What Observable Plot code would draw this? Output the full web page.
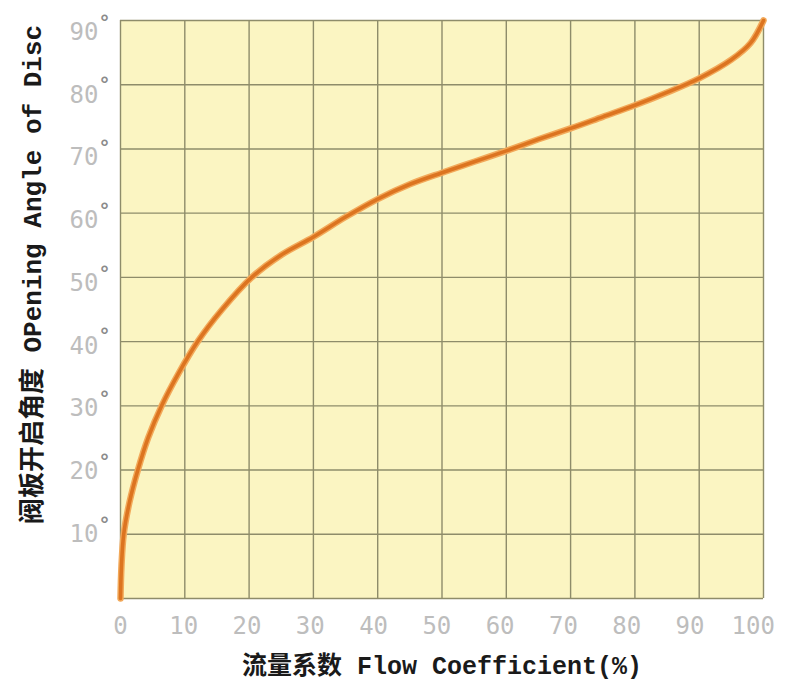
<!DOCTYPE html>
<html>
<head>
<meta charset="utf-8">
<script src="https://cdn.jsdelivr.net/npm/d3@7"></script>
<script src="https://cdn.jsdelivr.net/npm/@observablehq/plot@0.6"></script>
<style>
  html, body { margin: 0; padding: 0; background: #ffffff; }
  #chart svg { display: block; }
</style>
</head>
<body>
<div id="chart"></div>
<script>
// Flow coefficient (%) vs opening angle of disc (degrees)
const flowCoefficient = [0, 0.15, 0.5, 1.4, 2.7, 4.3, 6.4, 9.0, 12.0, 15.8, 20.4, 25, 30, 35, 40, 45, 50, 55, 60, 65, 70, 75, 80, 85, 90, 95, 98, 100];
const openingAngle    = [0, 5,    10,  15,  20,  25,  30,  35,  40,   45,   50,   53.5, 56.3, 59.4, 62.2, 64.5, 66.3, 68, 69.7, 71.5, 73.2, 75, 76.8, 78.8, 81, 83.9, 86.5, 90];
const xTicks = [0, 10, 20, 30, 40, 50, 60, 70, 80, 90, 100];
const yTicks = [10, 20, 30, 40, 50, 60, 70, 80, 90];
const yGrid  = [0, 10, 20, 30, 40, 50, 60, 70, 80, 90];
const xTitle = "流量系数 Flow Coefficient(%)";
const yTitle = "阀板开启角度 OPening Angle of Disc";

const data = flowCoefficient.map((x, i) => ({x, y: openingAngle[i]}));

const tickFont = "'DejaVu Sans Mono', monospace";
const titleFont = "'Liberation Mono', 'Noto Sans CJK SC', monospace";

const chart = Plot.plot({
  width: 785,
  height: 689,
  marginLeft: 120,
  marginRight: 22,
  marginTop: 20,
  marginBottom: 91,
  style: {background: "#ffffff", overflow: "hidden"},
  x: {domain: [0, 100], axis: null},
  y: {domain: [0, 90], axis: null},
  marks: [
    Plot.frame({fill: "#FBF5C2", stroke: "none"}),
    Plot.gridX(xTicks, {stroke: "#8E8C6A", strokeOpacity: 1, strokeWidth: 1.4}),
    Plot.gridY(yGrid, {stroke: "#8E8C6A", strokeOpacity: 1, strokeWidth: 1.4}),
    Plot.line(data, {x: "x", y: "y", curve: "catmull-rom", stroke: "#F2A95A", strokeWidth: 6.5, strokeLinecap: "round"}),
    Plot.line(data, {x: "x", y: "y", curve: "catmull-rom", stroke: "#DC7420", strokeWidth: 3.6, strokeLinecap: "round"}),
    // x tick labels
    Plot.text(xTicks, {
      x: d => d - d * 0.016, frameAnchor: "bottom", dy: 28, text: d => String(d),
      fontFamily: tickFont, fontSize: 24, fill: "#BDBDBD", textAnchor: "middle", lineAnchor: "middle"
    }),
    // y tick labels (numbers)
    Plot.text(yTicks, {
      y: d => d - (d - 10) * 0.023, frameAnchor: "left", dx: -22, text: d => String(d),
      fontFamily: tickFont, fontSize: 24, fill: "#BDBDBD", textAnchor: "end", lineAnchor: "middle"
    }),
    // y tick labels (degree signs)
    Plot.text(yTicks, {
      y: d => d - (d - 10) * 0.023, frameAnchor: "left", dx: -22, dy: -10, text: d => "°",
      fontFamily: tickFont, fontSize: 20, fontWeight: "bold", fill: "#8A8A8A", textAnchor: "start", lineAnchor: "middle"
    }),
    // axis titles
    Plot.text([xTitle], {
      frameAnchor: "bottom", dy: 67, text: d => d,
      fontFamily: titleFont, fontSize: 25, fontWeight: "bold", fill: "#1a1a1a", textAnchor: "middle", lineAnchor: "middle"
    }),
    Plot.text([yTitle], {
      frameAnchor: "left", dx: -88, dy: -35, rotate: -90, text: d => d,
      fontFamily: titleFont, fontSize: 26, fontWeight: "bold", fill: "#1a1a1a", textAnchor: "middle", lineAnchor: "middle"
    })
  ]
});
document.getElementById("chart").appendChild(chart);
</script>
</body>
</html>
